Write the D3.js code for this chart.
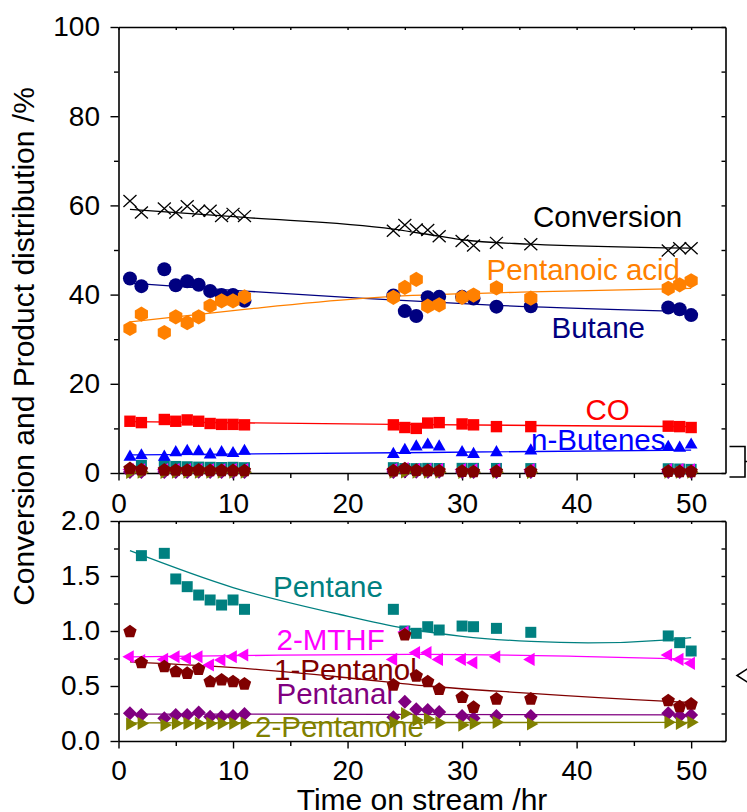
<!DOCTYPE html>
<html>
<head>
<meta charset="utf-8">
<script src="https://cdn.jsdelivr.net/npm/d3@7"></script>
<style>
  html, body { margin: 0; padding: 0; background: #fff; }
  svg { display: block; font-family: "Liberation Sans", Arial, Helvetica, sans-serif; }
</style>
</head>
<body>
<svg id="chart" width="747" height="812"></svg>
<script>
// ---- sampling times (h) ----
const hours = [1, 2, 4, 5, 6, 7, 8, 9, 10, 11, 24, 25, 26, 27, 28, 30, 31, 33, 36, 48, 49, 50];

// ---- main products (%), upper panel ----
const conversion = [61.0, 58.4, 59.3, 58.4, 59.8, 58.8, 58.8, 57.6, 58.1, 57.6, 54.3, 55.6, 54.6, 54.5, 53.1, 52.0, 51.0, 51.6, 51.3, 49.9, 50.4, 50.4];
const butane     = [43.6, 41.9, 45.7, 42.1, 43.0, 42.2, 40.8, 39.9, 39.9, 38.6, 39.8, 36.3, 35.2, 39.4, 39.5, 39.5, 39.1, 37.3, 37.4, 37.1, 36.7, 35.4];
const pentanoic  = [32.4, 35.6, 31.5, 35.0, 33.7, 35.0, 37.5, 38.6, 38.6, 39.5, 39.4, 41.6, 43.4, 37.4, 37.7, 39.4, 39.9, 41.5, 39.2, 41.4, 42.2, 43.1];
const co         = [11.6, 11.3, 12.0, 11.6, 11.9, 11.6, 11.1, 10.9, 10.9, 10.8, 10.8, 10.2, 10.0, 11.2, 11.3, 11.0, 10.8, 10.4, 10.4, 10.5, 10.4, 10.2];
const butenes    = [3.6, 3.9, 3.6, 4.6, 4.9, 4.8, 4.1, 4.6, 4.4, 4.9, 4.2, 5.1, 5.9, 6.3, 5.9, 4.6, 4.2, 4.6, 5.0, 5.8, 5.6, 6.3];

// ---- minor products (%), lower panel ----
const pentane    = [null, 1.685, 1.706, 1.473, 1.403, 1.327, 1.282, 1.236, 1.282, 1.197, 1.197, 1.00, 0.979, 1.039, 1.009, 1.045, 1.039, 1.024, 0.988, 0.955, 0.894, 0.818];
const mthf       = [0.766, 0.73, 0.742, 0.766, 0.751, 0.766, 0.691, 0.736, 0.766, 0.782, 0.742, 0.99, 0.803, 0.803, 0.742, 0.742, 0.712, 0.766, 0.742, 0.782, 0.742, 0.706];
const pentanol   = [0.994, 0.712, 0.676, 0.630, 0.615, 0.652, 0.539, 0.555, 0.539, 0.518, 0.509, 0.964, 0.591, 0.539, 0.470, 0.397, 0.306, 0.382, 0.382, 0.367, 0.312, 0.336];
const pentanal   = [0.252, 0.236, 0.206, 0.236, 0.236, 0.258, 0.221, 0.221, 0.227, 0.245, 0.215, 0.357, 0.288, 0.282, 0.264, 0.227, 0.206, 0.227, 0.227, 0.252, 0.227, 0.236];
const pentanone  = [0.155, 0.160, 0.145, 0.160, 0.160, 0.160, 0.160, 0.160, 0.160, 0.160, 0.170, 0.250, 0.190, 0.200, 0.167, 0.145, 0.160, 0.170, 0.155, 0.170, 0.160, 0.170];

// ---- trend curves [h, value] ----
const conversionFit = [[1, 59.1], [11, 57.3], [24, 54.7], [28, 53.1], [30, 52.3], [36, 51.3], [50, 50.4]];
const butaneFit     = [[1, 42.6], [11, 40.8], [21, 39.2], [33, 37.6], [50, 36.2]];
const pentanoicFit  = [[1, 33.9], [11, 36.7], [21, 39.1], [24, 39.6], [36, 40.6], [50, 41.4]];
const coFit         = [[1, 11.5], [24, 10.9], [50, 10.4]];
const butenesFit    = [[1, 4.05], [27, 4.6], [50, 5.15]];
const pentaneFit    = [[1, 1.73], [10, 1.395], [19.35, 1.15], [25, 1.025], [30, 0.952], [36, 0.905], [41, 0.892], [48, 0.92], [50, 0.94]];
const mthfFit       = [[1, 0.765], [14, 0.78], [27, 0.788], [40, 0.77], [50, 0.745]];
const pentanolFit   = [[1, 0.72], [11, 0.66], [20, 0.575], [27, 0.50], [35, 0.44], [48, 0.36], [50, 0.35]];
const pentanalFit   = [[1, 0.245], [50, 0.238]];
const pentanoneFit  = [[1, 0.165], [50, 0.17]];

// ---- axis ticks ----
const xTicks      = [0, 10, 20, 30, 40, 50];
const xMinorTicks = [5, 15, 25, 35, 45];
const yTopTicks   = [0, 20, 40, 60, 80, 100];
const yTopMinor   = [10, 30, 50, 70, 90];
const yBotTicks   = [0, 0.5, 1.0, 1.5, 2.0];
const yBotMinor   = [0.25, 0.75, 1.25, 1.75];

// ---- layout ----
const W = 747, H = 812;
const left = 118.5, right = 725.5;
const topPanel = { y0: 27, y1: 473 };
const botPanel = { y0: 521, y1: 741 };
const FONT = '"Liberation Sans", Arial, Helvetica, sans-serif';

const svg = d3.select('#chart');

const x = d3.scaleLinear().domain([0, 53]).range([left, right]);
const yTop = d3.scaleLinear().domain([0, 100]).range([topPanel.y1, topPanel.y0]);
const yBot = d3.scaleLinear().domain([0, 2]).range([botPanel.y1, botPanel.y0]);

// ---- marker shapes ----
function polygon(n, r, startDeg) {
  const pts = d3.range(n).map(i => {
    const a = (startDeg + i * 360 / n) * Math.PI / 180;
    return [r * Math.cos(a), r * Math.sin(a)];
  });
  return 'M' + pts.map(p => p[0].toFixed(2) + ',' + p[1].toFixed(2)).join('L') + 'Z';
}
function markerPath(shape, r) {
  switch (shape) {
    case 'circle':   return d3.symbol(d3.symbolCircle, Math.PI * r * r)();
    case 'square':   return `M${-r},${-r}H${r}V${r}H${-r}Z`;
    case 'x':        return `M${-r},${-r * 0.92}L${r},${r * 0.92}M${-r},${r * 0.92}L${r},${-r * 0.92}`;
    case 'hexagon':  return polygon(6, r, -90);
    case 'pentagon': return polygon(5, r, -90);
    case 'diamond':  return polygon(4, r, -90);
    case 'triUp':    return polygon(3, r, -90);
    case 'triLeft':  return polygon(3, r, 180);
    case 'triRight': return polygon(3, r, 0);
  }
}

// ---- series definitions ----
const upperSeries = [
  { name: 'Conversion',     values: conversion, fit: conversionFit, color: '#000000', shape: 'x',       r: 6.5 },
  { name: 'Butane',         values: butane,     fit: butaneFit,     color: '#000080', shape: 'circle',  r: 7 },
  { name: 'Pentanoic acid', values: pentanoic,  fit: pentanoicFit,  color: '#FF8000', shape: 'hexagon', r: 7.6 },
  { name: 'CO',             values: co,         fit: coFit,         color: '#FF0000', shape: 'square',  r: 5.7 },
  { name: 'n-Butenes',      values: butenes,    fit: butenesFit,    color: '#0000FF', shape: 'triUp',   r: 7.4 }
];
const lowerSeries = [
  { name: 'Pentane',     values: pentane,   fit: pentaneFit,   color: '#008080', shape: 'square',   r: 5.5 },
  { name: '2-MTHF',      values: mthf,      fit: mthfFit,      color: '#FF00FF', shape: 'triLeft',  r: 7.6 },
  { name: 'Pentanal',    values: pentanal,  fit: pentanalFit,  color: '#800080', shape: 'diamond',  r: 7 },
  { name: '2-Pentanone', values: pentanone, fit: pentanoneFit, color: '#808000', shape: 'triRight', r: 7.6 },
  { name: '1-Pentanol',  values: pentanol,  fit: pentanolFit,  color: '#800000', shape: 'pentagon', r: 7 }
];

// series labels: [text, color, x, baseline]
const labelsTop = [
  ['Conversion', '#000000', 533, 226.5],
  ['Pentanoic acid', '#FF8000', 486.5, 279.5],
  ['Butane', '#000080', 551.5, 337.5],
  ['CO', '#FF0000', 585.5, 419.5],
  ['n-Butenes', '#0000FF', 531, 450]
];
const labelsBot = [
  ['Pentane', '#008080', 273, 596.5],
  ['2-MTHF', '#FF00FF', 276.5, 649.5],
  ['1-Pentanol', '#800000', 274, 680],
  ['Pentanal', '#800080', 276.5, 704],
  ['2-Pentanone', '#808000', 255, 736.5]
];

// ---- axes ----
function styleAxis(g, fontSize) {
  g.select('.domain').attr('stroke', '#000').attr('stroke-width', 1.6);
  g.selectAll('.tick line').attr('stroke', '#000').attr('stroke-width', 1.4);
  g.selectAll('.tick text').attr('fill', '#000').attr('font-size', fontSize).attr('font-family', FONT);
}

function drawFrame(yScale, y0, y1, yTicks, yMinor, yFmt, xLabelPad) {
  // left axis with labels
  svg.append('g').attr('transform', `translate(${left},0)`)
    .call(d3.axisLeft(yScale).tickValues(yTicks).tickFormat(yFmt).tickSize(8).tickSizeOuter(0).tickPadding(10.5))
    .call(g => styleAxis(g, 28));
  svg.append('g').attr('transform', `translate(${left},0)`)
    .call(d3.axisLeft(yScale).tickValues(yMinor).tickFormat('').tickSize(4.5).tickSizeOuter(0))
    .call(g => { styleAxis(g, 28); g.select('.domain').remove(); });
  // right frame with inward ticks
  svg.append('g').attr('transform', `translate(${right},0)`)
    .call(d3.axisLeft(yScale).tickValues(yTicks.concat(yMinor)).tickFormat('').tickSize(4).tickSizeOuter(0))
    .call(g => styleAxis(g, 28));
  // bottom axis with labels
  svg.append('g').attr('transform', `translate(0,${y1})`)
    .call(d3.axisBottom(x).tickValues(xTicks).tickSize(7.5).tickSizeOuter(0).tickPadding(xLabelPad))
    .call(g => styleAxis(g, 28));
  svg.append('g').attr('transform', `translate(0,${y1})`)
    .call(d3.axisBottom(x).tickValues(xMinorTicks).tickFormat('').tickSize(5).tickSizeOuter(0))
    .call(g => { styleAxis(g, 28); g.select('.domain').remove(); });
  // top frame with inward ticks
  svg.append('g').attr('transform', `translate(0,${y0})`)
    .call(d3.axisBottom(x).tickValues(xTicks.concat(xMinorTicks)).tickFormat('').tickSize(3).tickSizeOuter(0))
    .call(g => styleAxis(g, 28));
}

drawFrame(yTop, topPanel.y0, topPanel.y1, yTopTicks, yTopMinor, d3.format('d'), 12.5);
drawFrame(yBot, botPanel.y0, botPanel.y1, yBotTicks, yBotMinor, d3.format('.1f'), 11.5);

// ---- series labels ----
function drawLabels(list) {
  svg.append('g').selectAll('text').data(list).join('text')
    .attr('x', d => d[1] && d[2]).attr('y', d => d[3])
    .attr('fill', d => d[1])
    .attr('font-size', 29.5)
    .attr('font-family', FONT)
    .text(d => d[0]);
}
drawLabels(labelsTop);
drawLabels(labelsBot);

// ---- trend lines & markers ----
function drawSeries(series, yScale, withLines) {
  const g = svg.append('g');
  if (withLines) {
    const line = d3.line().x(d => x(d[0])).y(d => yScale(d[1])).curve(d3.curveMonotoneX);
    series.forEach(s => {
      g.append('path').attr('d', line(s.fit))
        .attr('fill', 'none').attr('stroke', s.color).attr('stroke-width', 1.3);
    });
  }
  series.forEach(s => {
    const pts = hours.map((h, i) => [h, s.values[i]]).filter(p => p[1] != null);
    const path = markerPath(s.shape, s.r);
    g.append('g').selectAll('path').data(pts).join('path')
      .attr('transform', d => `translate(${x(d[0])},${yScale(d[1])})`)
      .attr('d', path)
      .attr('fill', s.shape === 'x' ? 'none' : s.color)
      .attr('stroke', s.shape === 'x' ? s.color : 'none')
      .attr('stroke-width', 1.3);
  });
}

// minor products also appear at the bottom of the upper panel
drawSeries(lowerSeries, yTop, false);
drawSeries(upperSeries, yTop, true);
drawSeries(lowerSeries, yBot, true);

// ---- axis titles ----
svg.append('text')
  .attr('transform', `translate(33.5,${(88 + 605) / 2}) rotate(-90)`)
  .attr('text-anchor', 'middle')
  .attr('font-size', 30).attr('font-family', FONT).attr('fill', '#000')
  .text('Conversion and Product distribution /%');

svg.append('text')
  .attr('x', (left + right) / 2).attr('y', 810)
  .attr('text-anchor', 'middle')
  .attr('font-size', 30).attr('font-family', FONT).attr('fill', '#000')
  .text('Time on stream /hr');

// ---- zoom bracket on the upper panel and pointer to the lower panel ----
svg.append('path')
  .attr('d', `M729.5,446.5H745V477H729.5M745,461.5H748`)
  .attr('fill', 'none').attr('stroke', '#000').attr('stroke-width', 1.6);
svg.append('path')
  .attr('d', `M748,668.5L737,675.5L748,682.5`)
  .attr('fill', 'none').attr('stroke', '#000').attr('stroke-width', 1.6);
</script>
</body>
</html>
